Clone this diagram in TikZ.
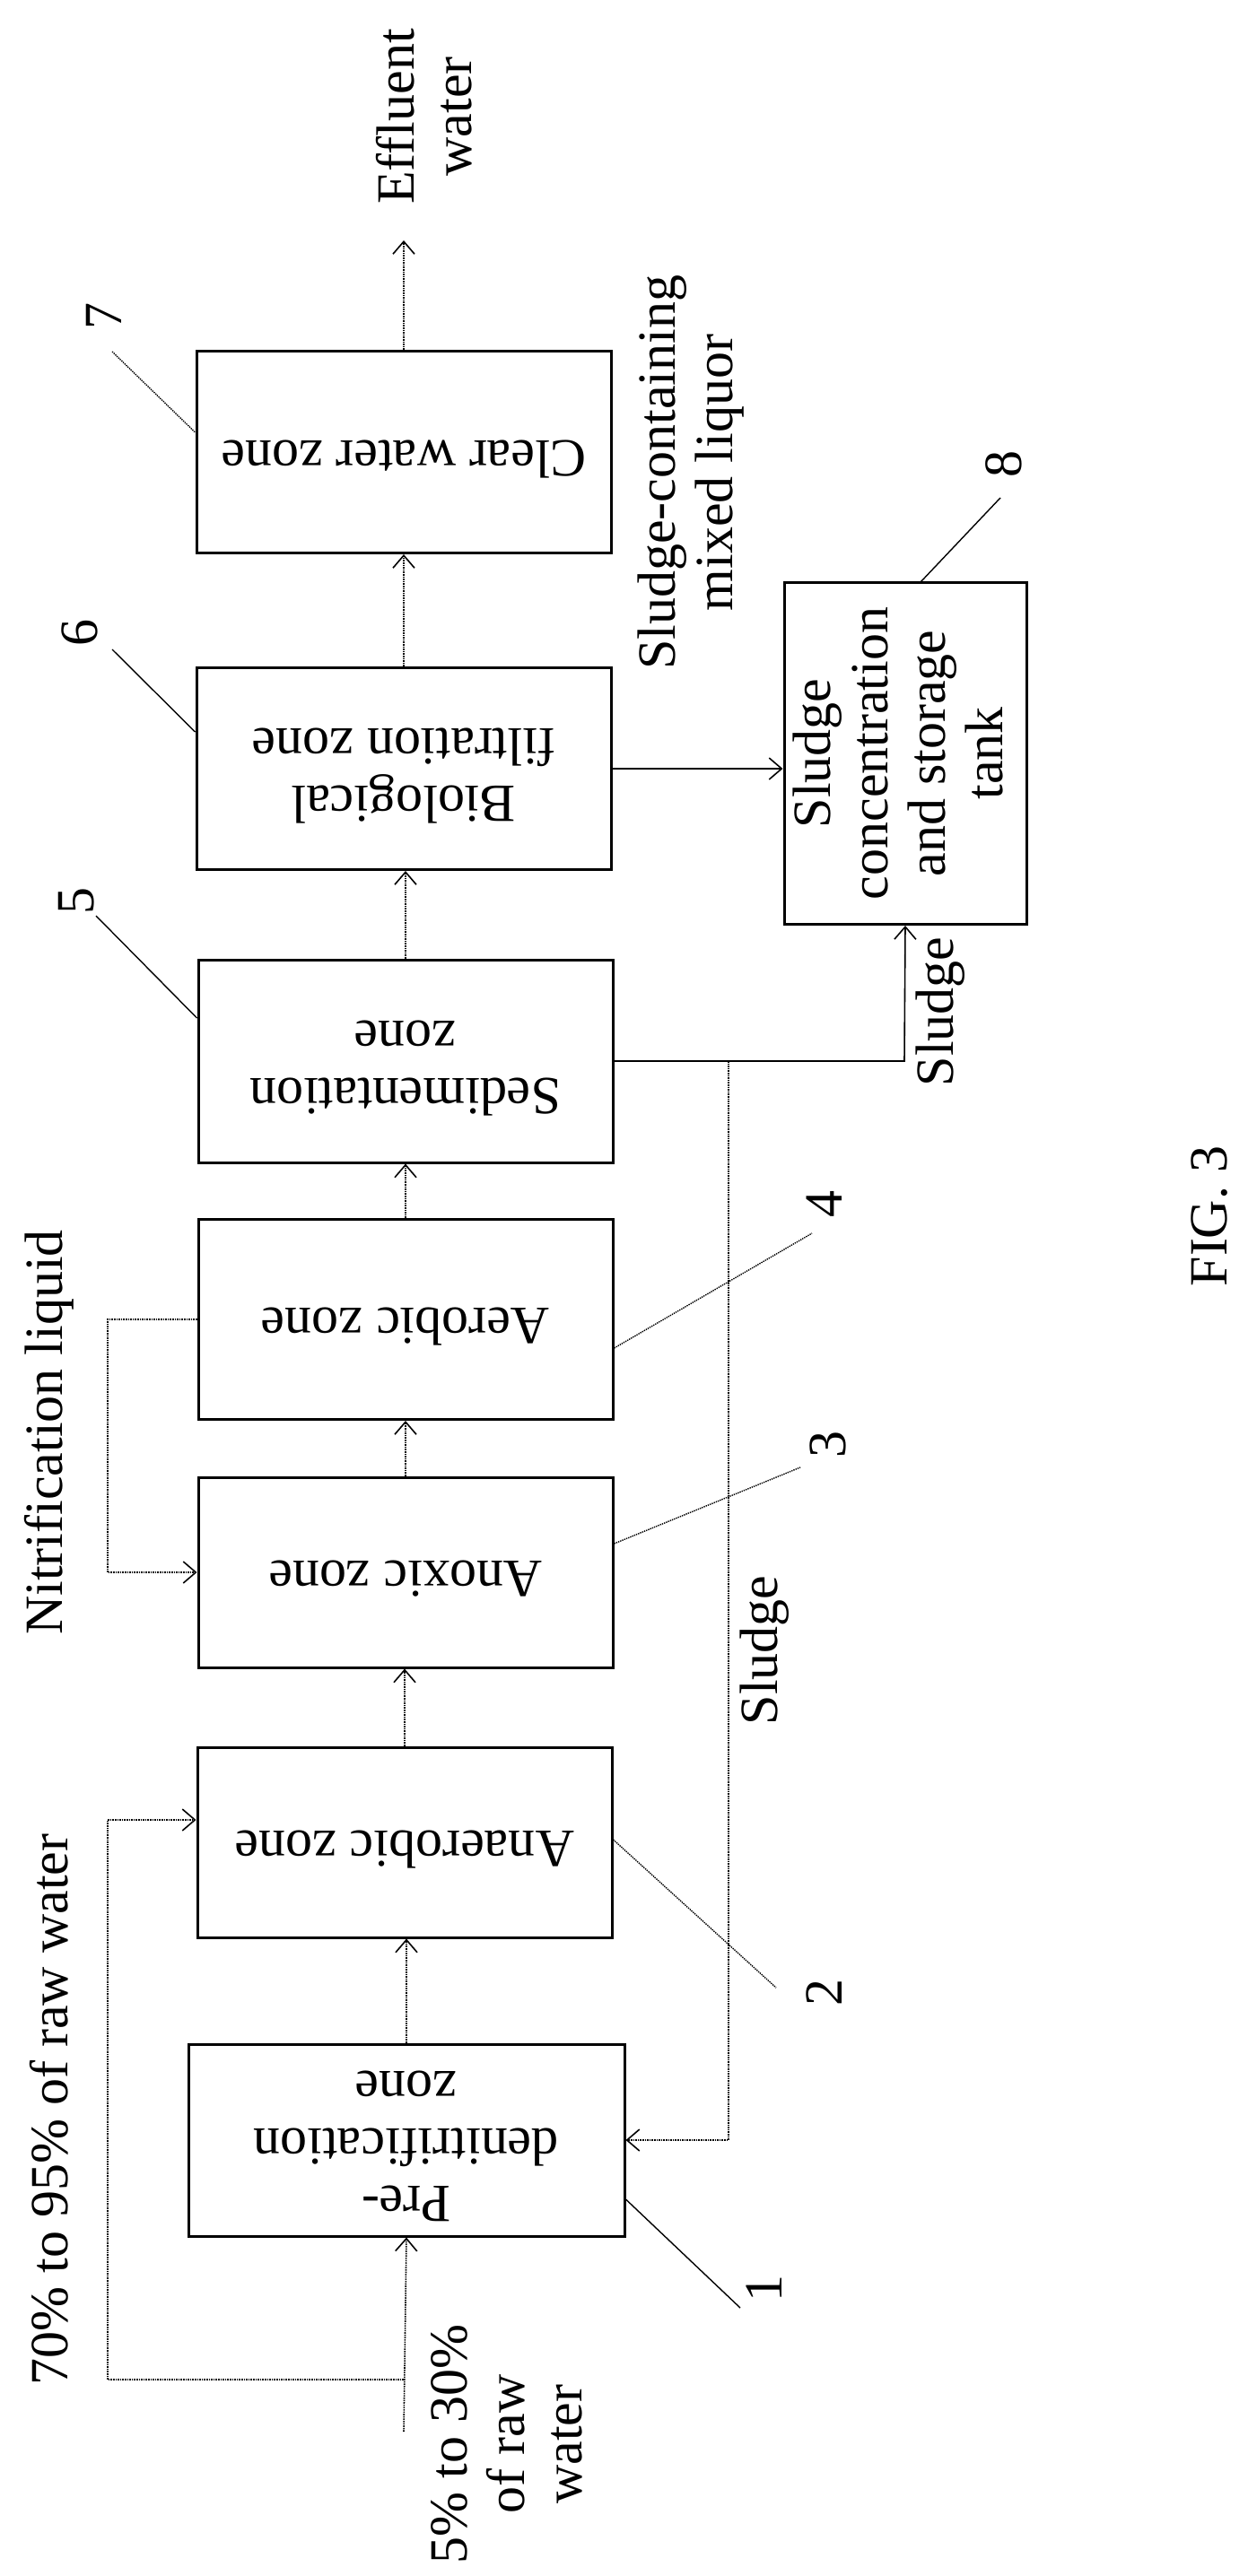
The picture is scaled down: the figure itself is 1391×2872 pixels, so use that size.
\documentclass[tikz,border=0pt]{standalone}
\usepackage{fontspec}
\setmainfont{Liberation Serif}
\usepackage{graphicx}
\usetikzlibrary{arrows.meta, positioning}

\tikzset{
  zone/.style={draw, line width=3pt, minimum width=462pt, inner sep=0pt, align=center},
  flow/.style={line width=1.6pt, densely dotted, -{Straight Barb[length=14pt,width=24pt]}},
  pipe/.style={line width=1.6pt, -{Straight Barb[length=14pt,width=24pt]}},
  lead/.style={line width=1.4pt},
  tag/.style={rotate=90, align=center, inner sep=0pt}
}
\newcommand{\upside}[1]{\rotatebox{180}{\begin{tabular}{@{}c@{}}#1\end{tabular}}}

\begin{document}
\begin{tikzpicture}[x=1pt, y=-1pt, font=\fontsize{60}{64}\selectfont]
        \useasboundingbox (0,0) rectangle (1391,2872);

        % treatment zones
        \node[zone, minimum height=225pt] (b7) at (450,504) {\upside{Clear water zone}};
        \node[zone, minimum height=225pt] (b6) at (450,857) {\upside{Biological\\filtration zone}};
        \node[zone, minimum height=226pt] (b5) at (452,1183) {\upside{Sedimentation\\zone}};
        \node[zone, minimum height=223pt] (b4) at (452,1471) {\upside{Aerobic zone}};
        \node[zone, minimum height=212pt] (b3) at (452,1753) {\upside{Anoxic zone}};
        \node[zone, minimum height=212pt] (b2) at (451,2054) {\upside{Anaerobic zone}};
        \node[zone, minimum height=214pt, minimum width=486pt] (b1) at (453,2386) {\upside{Pre-\\denitrification\\zone}};
        \node[zone, minimum width=270pt, minimum height=381pt] (b8) at (1009,840)
            {\rotatebox{90}{\begin{tabular}{@{}c@{}}Sludge\\concentration\\and storage\\tank\end{tabular}}};

        % main line
        \coordinate (eff) at (450,268);
        \coordinate (in) at (450,2711);
        \coordinate (split) at (450,2653);
        \draw[flow] (in) -- (b1.south);
        \draw[flow] (b1.north) -- (b1.north |- b2.south);
        \draw[flow] (b2.north) -- (b2.north |- b3.south);
        \draw[flow] (b3.north) -- (b3.north |- b4.south);
        \draw[flow] (b4.north) -- (b4.north |- b5.south);
        \draw[flow] (b5.north) -- (b5.north |- b6.south);
        \draw[flow] (b6.north) -- (b6.north |- b7.south);
        \draw[flow] (b7.north) -- (eff);

        % raw water split and nitrification return
        \draw[pipe, densely dotted] (split) -- (120,2653) -- (120,2029) -- (b2.west |- 0,2029);
        \draw[flow] (b4.west) -- (120,1471) |- (b3.west);

        % sludge lines
        \coordinate (j1) at (812,1183);
        \draw[pipe] (b6.east) -- (b6.east -| b8.west);
        \draw[line width=1.6pt] (b5.east) -- (j1);
        \draw[pipe] (j1) -- (1008,1183) -- (b8.south);
        \draw[flow] (j1) -- (812,2386) -- (b1.east);

        % labels
        \node[tag] (eff label) at (473,130) {Effluent\\water};
        \node[tag] (mix label) at (770,527) {Sludge-containing\\mixed liquor};
        \node[tag] (sl1 label) at (1048,1128) {Sludge};
        \node[tag] (sl2 label) at (852,1840) {Sludge};
        \node[tag] (nit label) at (55,1597) {Nitrification liquid};
        \node[tag] (byp label) at (55,2352) {70\% to 95\% of raw water};
        \node[tag] (raw label) at (565,2725) {5\% to 30\%\\of raw\\water};
        \node[tag] (fig label) at (1348,1356) {FIG. 3};

        % reference numerals
        \node[tag] (n7) at (116,352) {7};
        \node[tag] (n6) at (89,705) {6};
        \node[tag] (n5) at (85,1004) {5};
        \node[tag] (n8) at (1119,517) {8};
        \node[tag] (n4) at (919,1342) {4};
        \node[tag] (n3) at (923,1610) {3};
        \node[tag] (n2) at (919,2221) {2};
        \node[tag] (n1) at (852,2551) {1};
        \draw[lead, densely dotted] (125,392) -- (b7.west |- 0,482);
        \draw[lead] (125,724) -- (b6.west |- 0,816);
        \draw[lead] (107,1021) -- (b5.west |- 0,1135);
        \draw[lead] (1115,555) -- (1026,649);
        \draw[lead, densely dotted] (b4.east |- 0,1503) -- (905,1375);
        \draw[lead, densely dotted] (b3.east |- 0,1721) -- (892,1636);
        \draw[lead, densely dotted] (b2.east |- 0,2051) -- (865,2216);
        \draw[lead] (b1.east |- 0,2452) -- (825,2573);
\end{tikzpicture}
\end{document}
